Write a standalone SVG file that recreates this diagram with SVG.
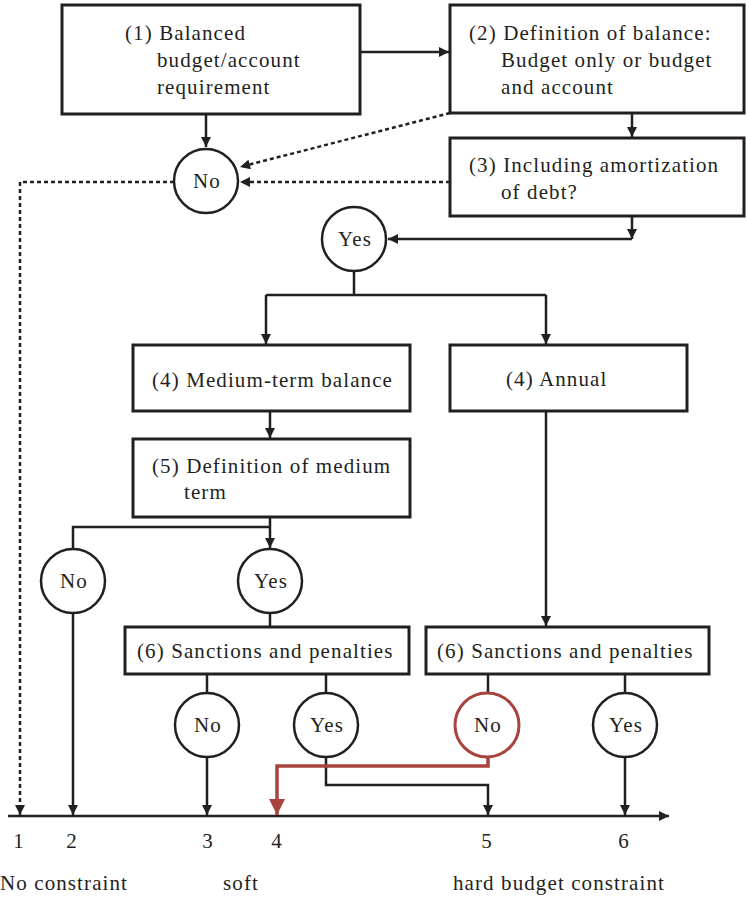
<svg xmlns="http://www.w3.org/2000/svg" width="746" height="899" viewBox="0 0 746 899">
<style>
.box{fill:#fff;stroke:#231f20;stroke-width:3}
.c{fill:#fff;stroke:#231f20;stroke-width:2.5}
.cr{fill:#fff;stroke:#a8433d;stroke-width:3}
.t{font-family:"Liberation Serif","Times New Roman",serif;font-size:21px;fill:#231f20;letter-spacing:1.1px}
.m{text-anchor:middle}
.ln{fill:none;stroke:#231f20;stroke-width:2.5}
.dot{fill:none;stroke:#231f20;stroke-width:2.5;stroke-dasharray:4 3}
.red{fill:none;stroke:#a8433d;stroke-width:3.5}
</style>
<defs>
<marker id="a" viewBox="0 0 10 10" refX="10" refY="5" markerUnits="userSpaceOnUse" markerWidth="11" markerHeight="10" orient="auto"><path d="M0,0 L10,5 L0,10 z" fill="#231f20"/></marker>
<marker id="ar" viewBox="0 0 10 10" refX="10" refY="5" markerUnits="userSpaceOnUse" markerWidth="17" markerHeight="16" orient="auto"><path d="M0,0 L10,5 L0,10 z" fill="#a8433d"/></marker>
</defs>

<g id="connectors">
<path class="ln" d="M360,52 H449" marker-end="url(#a)"/>
<path class="ln" d="M206,114 V147" marker-end="url(#a)"/>
<path class="ln" d="M632,114 V137" marker-end="url(#a)"/>
<path class="dot" d="M450,113 L240,167" marker-end="url(#a)"/>
<path class="dot" d="M450,182 H240" marker-end="url(#a)"/>
<path class="dot" d="M174,182 H20 V815" marker-end="url(#a)"/>
<path class="ln" d="M632,216 V239" marker-end="url(#a)"/>
<path class="ln" d="M632,239 H388" marker-end="url(#a)"/>
<path class="ln" d="M354,271 V295"/>
<path class="ln" d="M266,295 H546"/>
<path class="ln" d="M266,295 V344" marker-end="url(#a)"/>
<path class="ln" d="M546,295 V344" marker-end="url(#a)"/>
<path class="ln" d="M270,411 V438" marker-end="url(#a)"/>
<path class="ln" d="M270,517 V548" marker-end="url(#a)"/>
<path class="ln" d="M270,527 H73 V549"/>
<path class="ln" d="M270,613 V627"/>
<path class="ln" d="M546,411 V626" marker-end="url(#a)"/>
<path class="ln" d="M207,674 V693"/>
<path class="ln" d="M326,674 V693"/>
<path class="ln" d="M488,674 V693"/>
<path class="ln" d="M625,674 V693"/>
<path class="ln" d="M8,816 H669" marker-end="url(#a)"/>
<path class="ln" d="M73,613 V815" marker-end="url(#a)"/>
<path class="ln" d="M207,757 V815" marker-end="url(#a)"/>
<path class="ln" d="M326,757 V785 H488 V815" marker-end="url(#a)"/>
<path class="ln" d="M625,757 V815" marker-end="url(#a)"/>
<path class="red" d="M488,757 V766 H277 V815" marker-end="url(#ar)"/>
</g>

<g id="n1"><rect class="box" x="62" y="5" width="298" height="109"/>
<text class="t" x="125" y="40">(1) Balanced</text><text class="t" x="157" y="67">budget/account</text><text class="t" x="157" y="94">requirement</text></g>
<g id="n2"><rect class="box" x="450" y="5" width="294" height="108"/>
<text class="t" x="469" y="40">(2) Definition of balance:</text><text class="t" x="501" y="67">Budget only or budget</text><text class="t" x="501" y="94">and account</text></g>
<g id="n3"><rect class="box" x="450" y="138" width="294" height="78"/>
<text class="t" x="469" y="172">(3) Including amortization</text><text class="t" x="501" y="199">of debt?</text></g>
<g id="no1"><circle class="c" cx="206" cy="181" r="32"/><text class="t m" x="207" y="188">No</text></g>
<g id="yes1"><circle class="c" cx="354" cy="239" r="32"/><text class="t m" x="355" y="246">Yes</text></g>
<g id="n4m"><rect class="box" x="133" y="345" width="277" height="66"/><text class="t" x="152" y="387">(4) Medium-term balance</text></g>
<g id="n4a"><rect class="box" x="450" y="345" width="237" height="66"/><text class="t" x="506" y="386">(4) Annual</text></g>
<g id="n5"><rect class="box" x="133" y="439" width="277" height="78"/>
<text class="t" x="152" y="473">(5) Definition of medium</text><text class="t" x="184" y="499">term</text></g>
<g id="no2"><circle class="c" cx="73" cy="581" r="32"/><text class="t m" x="74" y="588">No</text></g>
<g id="yes2"><circle class="c" cx="270" cy="581" r="32"/><text class="t m" x="271" y="588">Yes</text></g>
<g id="n6l"><rect class="box" x="125" y="627" width="284" height="47"/><text class="t" x="137" y="658">(6) Sanctions and penalties</text></g>
<g id="n6r"><rect class="box" x="426" y="627" width="283" height="47"/><text class="t" x="437" y="658">(6) Sanctions and penalties</text></g>
<g id="no3"><circle class="c" cx="207" cy="725" r="32"/><text class="t m" x="208" y="732">No</text></g>
<g id="yes3"><circle class="c" cx="326" cy="725" r="32"/><text class="t m" x="327" y="732">Yes</text></g>
<g id="no4"><circle class="cr" cx="487" cy="725" r="32"/><text class="t m" x="488" y="732">No</text></g>
<g id="yes4"><circle class="c" cx="625" cy="725" r="32"/><text class="t m" x="626" y="732">Yes</text></g>

<g id="axis-labels">
<text class="t m" x="19" y="848">1</text>
<text class="t m" x="72" y="848">2</text>
<text class="t m" x="208" y="848">3</text>
<text class="t m" x="277" y="848">4</text>
<text class="t m" x="487" y="848">5</text>
<text class="t m" x="624" y="848">6</text>
<text class="t" x="0" y="890">No constraint</text>
<text class="t m" x="241" y="890">soft</text>
<text class="t m" x="559" y="890">hard budget constraint</text>
</g>
</svg>
